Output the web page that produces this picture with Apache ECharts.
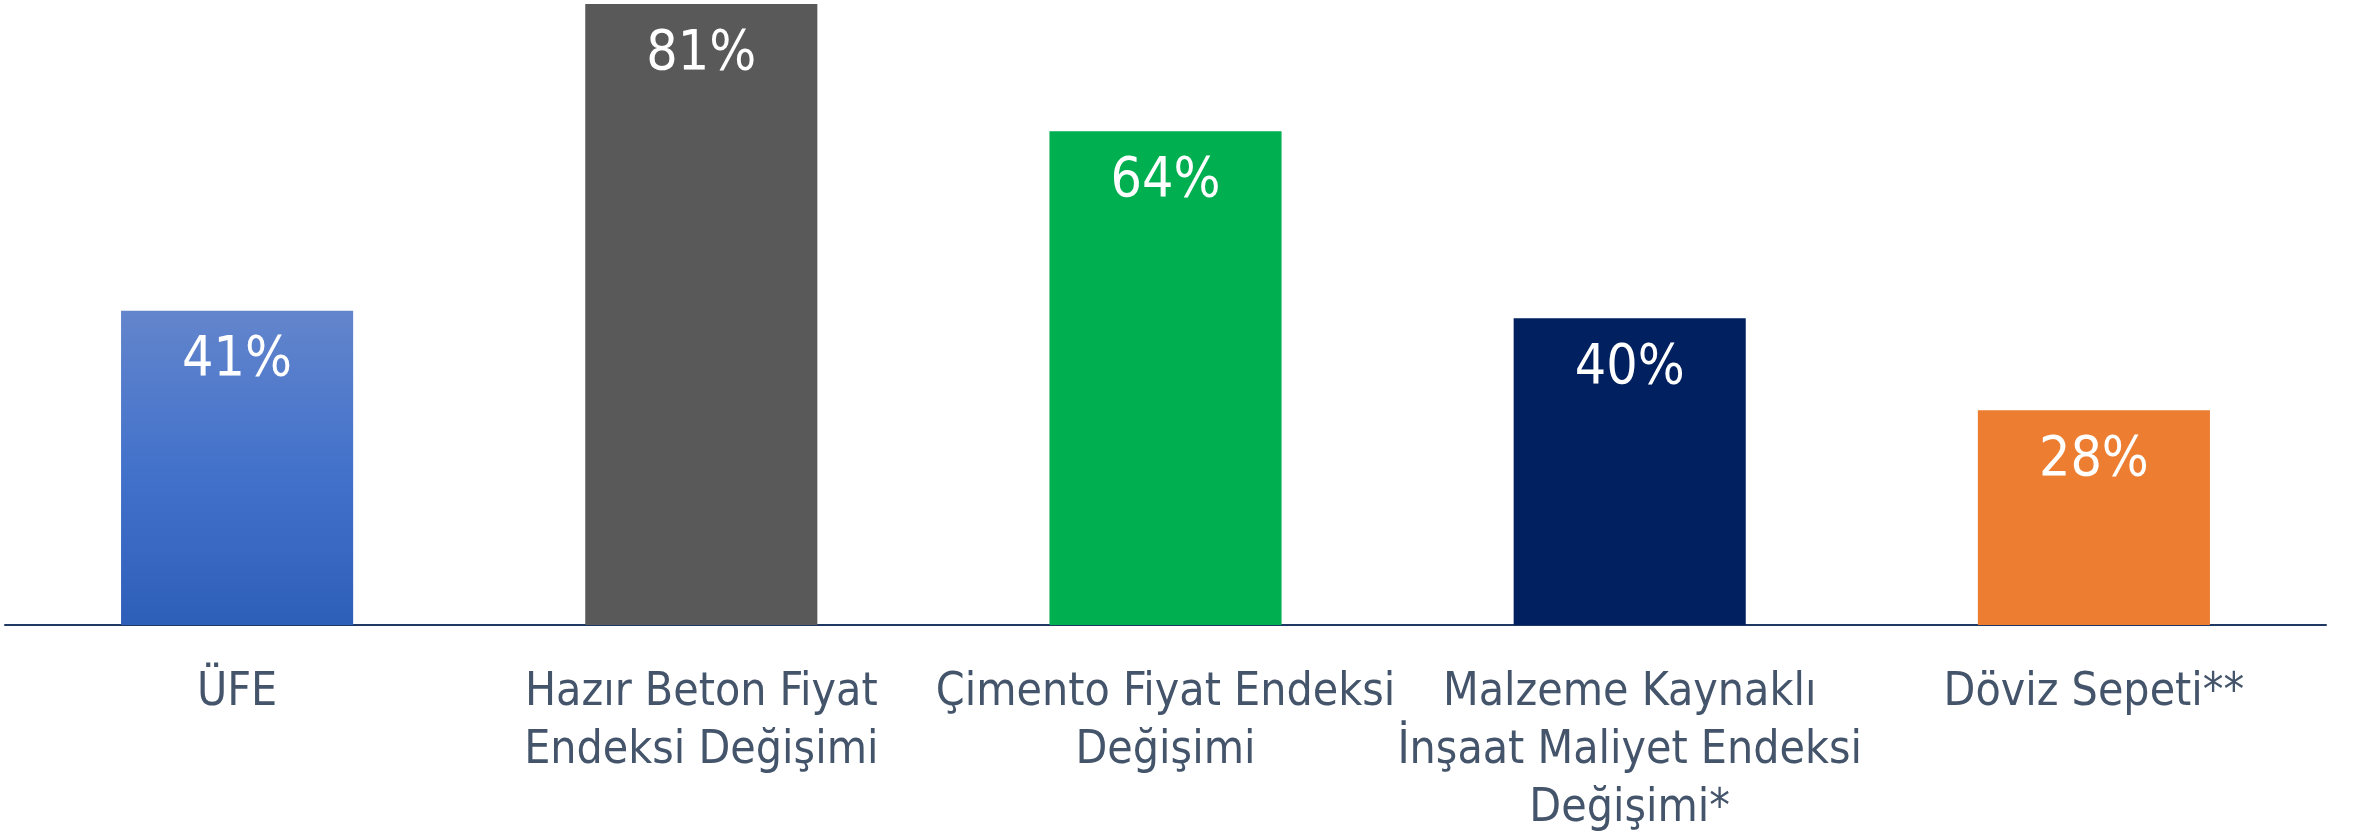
<!DOCTYPE html>
<html>
<head>
<meta charset="utf-8">
<script src="https://cdn.jsdelivr.net/npm/echarts@6/dist/echarts.min.js"></script>
<style>
  html, body { margin: 0; padding: 0; background: #fff; }
  #chart { width: 2364px; height: 838px; }
</style>
</head>
<body>
<div id="chart"></div>
<script>
var categories = [
    'ÜFE',
    'Hazır Beton Fiyat\nEndeksi Değişimi',
    'Çimento Fiyat Endeksi\nDeğişimi',
    'Malzeme Kaynaklı\nİnşaat Maliyet Endeksi\nDeğişimi*',
    'Döviz Sepeti**'
]
var values = [41, 81, 64.4, 40, 28]
var barColors = [
    new echarts.graphic.LinearGradient(0, 0, 0, 1, [
        { offset: 0, color: '#6385cc' },
        { offset: 0.5, color: '#4372cb' },
        { offset: 1, color: '#2e5fb8' }
    ]),
    '#595959',
    '#00b050',
    '#002060',
    '#ed7d31'
]

var font = "'DejaVu Sans Condensed', 'DejaVu Sans', sans-serif"

window.onload = function () {
    var chart = echarts.init(document.getElementById('chart'))

    var option = {
        animation: false,
        grid: {
            left: 5,
            right: 38,
            top: 4,
            bottom: 208
        },
        xAxis: {
            type: 'category',
            data: categories,
            axisLine: {
                show: true,
                lineStyle: { color: '#1f3864', width: 2 }
            },
            axisTick: { show: false },
            axisLabel: {
                margin: 39,
                color: '#44546a',
                fontFamily: font,
                fontSize: 46,
                lineHeight: 58,
                interval: 0
            }
        },
        yAxis: {
            type: 'value',
            min: 0,
            max: 81,
            show: false,
            splitLine: { show: false }
        },
        series: [{
            type: 'bar',
            barWidth: '50%',
            data: values.map(function (v, i) {
                return { value: v, itemStyle: { color: barColors[i] } }
            }),
            label: {
                show: true,
                position: 'insideTop',
                distance: 23,
                color: '#ffffff',
                fontFamily: font,
                fontSize: 55,
                formatter: function (p) {
                    return Math.round(p.value) + '%'
                }
            }
        }]
    }

    chart.setOption(option)
}
</script>
</body>
</html>
